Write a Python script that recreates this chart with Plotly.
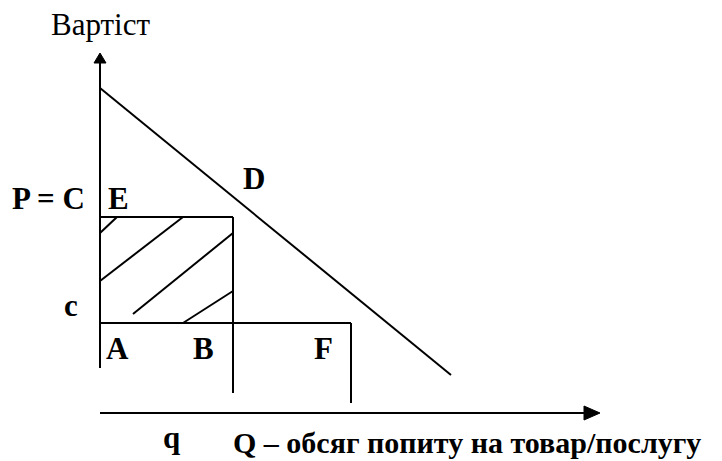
import plotly.graph_objects as go

# ---- data (in drawing units from the origin) ----
demand_q = [0, 351]          # demand line D: quantity ends
demand_p = [325, 38]         # demand line D: price at those quantities
price_P = 196                # P = C level (point E)
cost_c = 90                  # cost level c (points A, B, F)
q_small = 133                # q
Q_big = 251                  # Q
q_drop = 20                  # how low the q line reaches
Q_drop = 10                  # how low the Q line reaches
y_axis_span = [45, 351]      # vertical axis extent
x_axis_span = [0, 485]       # horizontal axis extent
hatch_x0 = [0, 0, 33, 83]
hatch_y0 = [180, 132, 99, 90]
hatch_x1 = [17, 83, 133, 133]
hatch_y1 = [196, 196, 180, 122]

point_labels = ["E", "D", "A", "B", "F"]
y_title = "Вартіст"
x_title = "Q – обсяг попиту на товар/послугу"

FONT = "Liberation Serif"

fig = go.Figure()


def seg(xs, ys, width=2):
    fig.add_trace(go.Scatter(x=xs, y=ys, mode="lines",
                             line=dict(color="black", width=width),
                             hoverinfo="skip", showlegend=False))


# axes
seg([0, 0], y_axis_span)
seg(x_axis_span, [0, 0])
# arrow heads
ah_len, ah_half = 9, 6
ya_top = y_axis_span[1]
fig.add_trace(go.Scatter(x=[-ah_half, ah_half, 0, -ah_half],
                         y=[ya_top - 1, ya_top - 1, ya_top + ah_len, ya_top - 1],
                         mode="lines", fill="toself", fillcolor="black",
                         line=dict(color="black", width=1), hoverinfo="skip",
                         showlegend=False))
xa_end = x_axis_span[1]
fig.add_trace(go.Scatter(x=[xa_end - 1, xa_end - 1, xa_end + 15, xa_end - 1],
                         y=[-7, 7, 0, -7],
                         mode="lines", fill="toself", fillcolor="black",
                         line=dict(color="black", width=1), hoverinfo="skip",
                         showlegend=False))

# demand line
seg(demand_q, demand_p)
# rectangle P=C / c / q
seg([0, q_small], [price_P, price_P])
seg([q_small, q_small], [price_P, q_drop])
seg([0, Q_big], [cost_c, cost_c])
seg([Q_big, Q_big], [cost_c, Q_drop])
# hatching
for a, b, c, d in zip(hatch_x0, hatch_y0, hatch_x1, hatch_y1):
    seg([a, c], [b, d])


def label(text, x, y, size=31, bold=True, xanchor="center"):
    fig.add_annotation(x=x, y=y, xref="x", yref="y", showarrow=False,
                       text=f"<b>{text}</b>" if bold else text,
                       font=dict(family=FONT, size=size, color="black"),
                       xanchor=xanchor, yanchor="middle")


label(y_title, 0, 389, size=31, bold=False)
label("P = C", -13, 215, xanchor="right")
label(point_labels[0], 18, 215)
label(point_labels[1], 154, 235)
label("c", -29, 108)
label(point_labels[2], 17, 65)
label(point_labels[3], 103, 65)
label(point_labels[4], 223, 65)
label("q", 71, -24)
label(x_title, 131, -29, size=30, xanchor="left")

fig.update_layout(
    width=722, height=461,
    margin=dict(l=0, r=0, t=0, b=0),
    paper_bgcolor="white", plot_bgcolor="white",
    xaxis=dict(range=[-92, 630], visible=False, fixedrange=True),
    yaxis=dict(range=[-56, 405], visible=False, fixedrange=True),
    showlegend=False,
)
fig.write_html("out.html")
